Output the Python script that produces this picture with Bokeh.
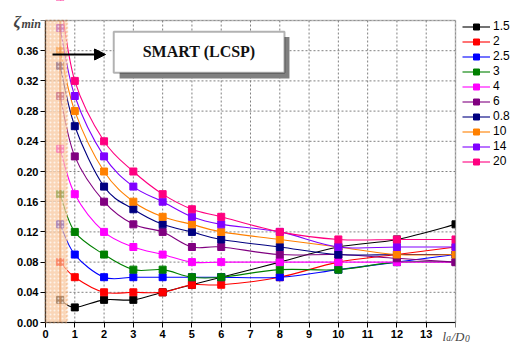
from bokeh.plotting import figure
from bokeh.models import (FixedTicker, BoxAnnotation, Label, Arrow, NormalHead,
                          Legend, LegendItem, Range1d, PrintfTickFormatter, ColumnDataSource,
                          LinearAxis)
from bokeh.embed import file_html
from bokeh.resources import INLINE

# ---- data ----
x_vals = [0.5, 1, 2, 3, 4, 5, 6, 8, 10, 12, 14]
series_labels = ["1.5", "2", "2.5", "3", "4", "6", "0.8", "10", "14", "20"]
series_colors = ["#000000", "#FF0000", "#0000FF", "#008000", "#FF00FF",
                 "#800080", "#000080", "#FF8000", "#8000FF", "#FF0080"]
s_1_5 = [0.03, 0.02, 0.03, 0.03, 0.04, 0.05, 0.06, 0.08, 0.10, 0.11, 0.13]
s_2   = [0.08, 0.06, 0.04, 0.04, 0.04, 0.05, 0.05, 0.06, 0.08, 0.09, 0.10]
s_2_5 = [0.13, 0.09, 0.06, 0.06, 0.06, 0.06, 0.06, 0.06, 0.07, 0.08, 0.09]
s_3   = [0.17, 0.12, 0.09, 0.07, 0.07, 0.06, 0.06, 0.07, 0.07, 0.08, 0.08]
s_4   = [0.23, 0.17, 0.12, 0.10, 0.09, 0.08, 0.08, 0.08, 0.08, 0.08, 0.08]
s_6   = [0.30, 0.22, 0.16, 0.13, 0.12, 0.10, 0.10, 0.09, 0.09, 0.085, 0.08]
s_0_8 = [0.34, 0.26, 0.18, 0.15, 0.13, 0.12, 0.11, 0.10, 0.09, 0.09, 0.09]
s_10  = [0.36, 0.28, 0.20, 0.16, 0.14, 0.13, 0.12, 0.11, 0.10, 0.09, 0.09]
s_14  = [0.39, 0.30, 0.22, 0.18, 0.16, 0.14, 0.13, 0.12, 0.10, 0.10, 0.10]
s_20  = [0.43, 0.32, 0.24, 0.20, 0.17, 0.15, 0.14, 0.12, 0.11, 0.11, 0.11]
series_values = [s_1_5, s_2, s_2_5, s_3, s_4, s_6, s_0_8, s_10, s_14, s_20]

x_ticks = list(range(0, 15))
y_ticks = [0.00, 0.04, 0.08, 0.12, 0.16, 0.20, 0.24, 0.28, 0.32, 0.36, 0.40]
X_MAX, Y_MAX = 14, 0.40

# canvas geometry: the data area sits at px 45..455 horizontally, 20..322 vertically
W, H = 511, 343
L_PX, R_PX, T_PX, B_PX = 45, 455, 20, 322
sx = (R_PX - L_PX) / X_MAX
sy = (B_PX - T_PX) / Y_MAX
x_range = Range1d(-L_PX / sx, (W - L_PX) / sx)
y_range = Range1d(-(H - B_PX) / sy, Y_MAX + T_PX / sy)


def px_x(px):
    return (px - L_PX) / sx


def px_y(py):
    return (B_PX - py) / sy


def smooth_segments(xs, ys, k=1.0 / 6.0):
    """Cubic Bezier control points (Catmull-Rom style) between consecutive data points."""
    n = len(xs)
    out = dict(x0=[], y0=[], x1=[], y1=[], cx0=[], cy0=[], cx1=[], cy1=[])
    for i in range(n - 1):
        xp, yp = (xs[i - 1], ys[i - 1]) if i > 0 else (xs[i], ys[i])
        xn, yn = (xs[i + 2], ys[i + 2]) if i + 2 < n else (xs[i + 1], ys[i + 1])
        out["x0"].append(xs[i]); out["y0"].append(ys[i])
        out["x1"].append(xs[i + 1]); out["y1"].append(ys[i + 1])
        out["cx0"].append(xs[i] + (xs[i + 1] - xp) * k)
        out["cy0"].append(ys[i] + (ys[i + 1] - yp) * k)
        out["cx1"].append(xs[i + 1] - (xn - xs[i]) * k)
        out["cy1"].append(ys[i + 1] - (yn - ys[i]) * k)
    return out


p = figure(width=W, height=H, output_backend="svg", toolbar_location=None,
           x_range=x_range, y_range=y_range, x_axis_location=None, y_axis_location=None,
           min_border=0)
p.background_fill_color = "white"
p.border_fill_color = "white"
p.outline_line_color = None
p.grid.visible = False

# dotted grid, drawn from the tick lists
p.segment(x0=x_ticks, y0=[0] * len(x_ticks), x1=x_ticks, y1=[Y_MAX] * len(x_ticks),
          line_color="#808080", line_dash="2 2", line_width=1, level="underlay")
p.segment(x0=[0] * len(y_ticks), y0=y_ticks, x1=[X_MAX] * len(y_ticks), y1=y_ticks,
          line_color="#808080", line_dash="2 2", line_width=1, level="underlay")

items = []
for lab, col, vals in zip(series_labels, series_colors, series_values):
    seg = ColumnDataSource(smooth_segments(x_vals, vals))
    lr = p.bezier(x0="x0", y0="y0", x1="x1", y1="y1", cx0="cx0", cy0="cy0",
                  cx1="cx1", cy1="cy1", source=seg, line_color=col, line_width=1.1)
    src = ColumnDataSource(dict(x=x_vals, y=vals))
    sr = p.scatter(x="x", y="y", source=src, marker="square", size=7,
                   fill_color=col, line_color=col)
    items.append(LegendItem(label=lab, renderers=[lr, sr]))

# white covers outside the data area (right and top)
p.add_layout(BoxAnnotation(left=X_MAX, fill_color="white", fill_alpha=1, line_color=None))
p.add_layout(BoxAnnotation(bottom=Y_MAX, fill_color="white", fill_alpha=1, line_color=None))

# shaded band
p.add_layout(BoxAnnotation(left=0, right=0.74, bottom=0, top=Y_MAX, fill_color="#F8C49A",
                           fill_alpha=0.7, line_color="#E8802A", line_dash="2 2", line_width=2,
                           hatch_pattern="dot", hatch_color="white", hatch_scale=4,
                           hatch_alpha=0.7))
p.add_layout(BoxAnnotation(left=0.5, right=0.5, bottom=0, top=Y_MAX, fill_alpha=0,
                           line_color="#E07020", line_dash="2 2", line_width=2))

# annotation box with shadow
p.add_layout(BoxAnnotation(left=2.53, right=8.33, bottom=0.3232, top=0.378,
                           fill_color="#808080", fill_alpha=1, line_color=None))
p.add_layout(BoxAnnotation(left=2.33, right=8.16, bottom=0.3308, top=0.3852,
                           fill_color="white", fill_alpha=1, line_color="black", line_width=2))
p.add_layout(Label(x=5.245, y=0.3585, text="SMART (LCSP)", text_font="Liberation Serif",
                   text_font_style="bold", text_font_size="16px", text_align="center",
                   text_baseline="middle", text_color="#111111"))
p.add_layout(Arrow(end=NormalHead(size=11, fill_color="black", line_color="black"),
                   x_start=0.24, y_start=0.355, x_end=2.05, y_end=0.355,
                   line_width=2, line_color="black"))

# frame border
p.add_layout(BoxAnnotation(left=0, right=X_MAX, bottom=0, top=Y_MAX, fill_alpha=0,
                           line_color="#202020", line_width=1.5))

# axes
xax = LinearAxis(fixed_location=0, bounds=(0, X_MAX), ticker=FixedTicker(ticks=x_ticks),
                 major_label_overrides={14: ""})
yax = LinearAxis(fixed_location=0, bounds=(0, Y_MAX), ticker=FixedTicker(ticks=y_ticks),
                 formatter=PrintfTickFormatter(format="%.2f"),
                 major_label_overrides={0.4: ""})
for ax in (xax, yax):
    ax.axis_line_color = "black"
    ax.axis_line_width = 1.2
    ax.major_tick_line_color = "black"
    ax.major_tick_out = 5
    ax.major_tick_in = 0
    ax.minor_tick_line_color = None
    ax.major_label_text_font = "Liberation Sans"
    ax.major_label_text_font_style = "bold"
    ax.major_label_text_font_size = "11px"
    ax.major_label_text_color = "black"
    ax.major_label_standoff = 2
p.add_layout(xax, "below")
p.add_layout(yax, "left")

# axis titles
p.add_layout(Label(x=px_x(13), y=px_y(21), text="ζ", text_font="Liberation Serif",
                   text_font_style="bold italic", text_font_size="17px",
                   text_baseline="alphabetic"))
p.add_layout(Label(x=px_x(21), y=px_y(23), text="min", text_font="Liberation Serif",
                   text_font_style="bold italic", text_font_size="12px",
                   text_baseline="alphabetic"))
for txt, lx, by, fs in [("l", 442, 336, "13px"), ("a", 445.8, 337.5, "9.5px"),
                        ("/D", 451, 336, "13px"), ("0", 464.5, 337.5, "9.5px")]:
    p.add_layout(Label(x=px_x(lx), y=px_y(by), text=txt, text_font="Liberation Serif",
                       text_font_style="italic", text_font_size=fs,
                       text_baseline="alphabetic"))

legend = Legend(items=items, location=(462, 174.5), label_text_font="Liberation Sans",
                label_text_font_size="12px", label_text_color="black",
                glyph_width=28, glyph_height=15,
                label_height=15, spacing=0, padding=0, margin=0, label_standoff=3,
                border_line_color=None, background_fill_alpha=0)
p.add_layout(legend)

open("out.html", "w").write(file_html(p, INLINE))
